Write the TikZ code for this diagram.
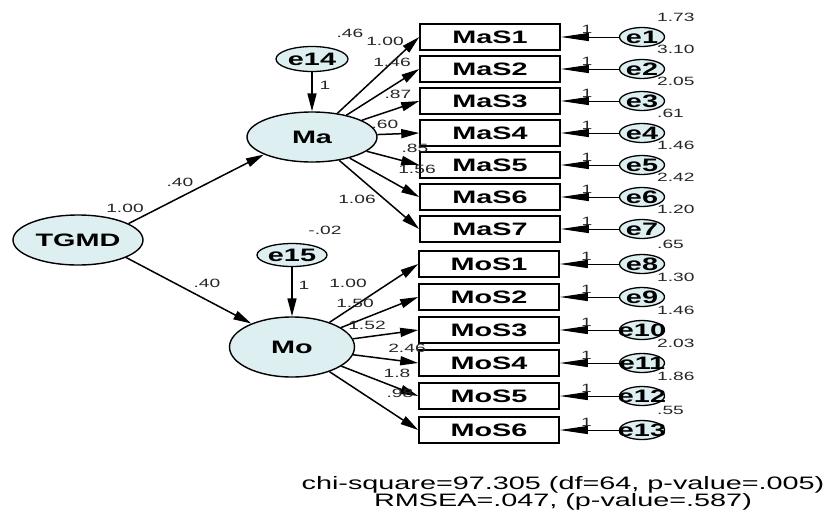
\documentclass[tikz,border=0pt]{standalone}
\usepackage{fontspec}
\setmainfont{Liberation Sans}[FakeStretch=1.6]
\usetikzlibrary{shapes.geometric,arrows.meta}
\definecolor{amosfill}{RGB}{222,239,242}
\newcommand\errtext[1]{\makebox[0pt]{#1}}
\begin{document}
\begin{tikzpicture}[x=1pt,y=-1pt,
  latent/.style={ellipse,draw,line width=1.4pt,fill=amosfill,inner sep=0pt,font=\fontsize{18}{20}\selectfont\bfseries},
  errvar/.style={ellipse,draw,line width=1.3pt,fill=amosfill,inner sep=0pt,font=\fontsize{18}{18}\selectfont\bfseries},
  obsbox/.style={rectangle,draw,line width=1.6pt,fill=white,inner sep=0pt,minimum width=140,minimum height=26,font=\fontsize{18}{20}\selectfont\bfseries},
  est/.style={inner sep=0pt,text=black!85,font=\fontsize{12}{14}\selectfont},
  load/.style={line width=1.5pt,-{Triangle[length=18pt,width=9pt]}},
  errarrow/.style={line width=1pt,-{Triangle[length=28pt,width=8pt]}}]
\path[use as bounding box] (0,0) rectangle (840,512);
% latent variables
\node[latent,minimum width=130,minimum height=50] (TGMD) at (78,240) {TGMD};
\node[latent,minimum width=130,minimum height=50] (Ma) at (312,137) {Ma};
\node[latent,minimum width=125,minimum height=60] (Mo) at (292,347) {Mo};
\node[errvar,minimum width=72,minimum height=25] (e14) at (312,59) {\errtext{e14}};
\node[errvar,minimum width=70,minimum height=23] (e15) at (292,255) {\errtext{e15}};
% observed variables
\node[obsbox] (MaS1) at (490,37) {MaS1};
\node[obsbox] (MaS2) at (490,69) {MaS2};
\node[obsbox] (MaS3) at (490,101) {MaS3};
\node[obsbox] (MaS4) at (490,133) {MaS4};
\node[obsbox] (MaS5) at (490,165) {MaS5};
\node[obsbox] (MaS6) at (490,197) {MaS6};
\node[obsbox] (MaS7) at (490,229) {MaS7};
\node[obsbox] (MoS1) at (489,264) {MoS1};
\node[obsbox] (MoS2) at (489,297) {MoS2};
\node[obsbox] (MoS3) at (489,330) {MoS3};
\node[obsbox] (MoS4) at (489,363) {MoS4};
\node[obsbox] (MoS5) at (489,396) {MoS5};
\node[obsbox] (MoS6) at (489,430) {MoS6};
% measurement errors
\node[errvar,minimum width=45,minimum height=19] (e1) at (642,37) {\errtext{e1}};
\node[errvar,minimum width=45,minimum height=19] (e2) at (642,69) {\errtext{e2}};
\node[errvar,minimum width=45,minimum height=19] (e3) at (642,101) {\errtext{e3}};
\node[errvar,minimum width=45,minimum height=19] (e4) at (642,133) {\errtext{e4}};
\node[errvar,minimum width=45,minimum height=19] (e5) at (642,165) {\errtext{e5}};
\node[errvar,minimum width=45,minimum height=19] (e6) at (642,197) {\errtext{e6}};
\node[errvar,minimum width=45,minimum height=19] (e7) at (642,229) {\errtext{e7}};
\node[errvar,minimum width=45,minimum height=19] (e8) at (642,264) {\errtext{e8}};
\node[errvar,minimum width=45,minimum height=19] (e9) at (642,297) {\errtext{e9}};
\node[errvar,minimum width=45,minimum height=19] (e10) at (642,330) {\errtext{e10}};
\node[errvar,minimum width=45,minimum height=19] (e11) at (642,363) {\errtext{e11}};
\node[errvar,minimum width=45,minimum height=19] (e12) at (642,396) {\errtext{e12}};
\node[errvar,minimum width=45,minimum height=19] (e13) at (642,430) {\errtext{e13}};
% structural paths
\draw[load] (TGMD.18) -- (Ma.200);
\draw[load] (TGMD.340) -- (Mo.150);
\draw[load] (e14) -- (Ma);
\draw[load] (e15) -- (Mo);
\draw[load] (Ma) -- (MaS1.west);
\draw[load] (Ma) -- (MaS2.west);
\draw[load] (Ma) -- (MaS3.west);
\draw[load] (Ma) -- (MaS4.west);
\draw[load] (Ma) -- (MaS5.west);
\draw[load] (Ma) -- (MaS6.west);
\draw[load] (Ma) -- (MaS7.west);
\draw[load] (Mo) -- (MoS1.west);
\draw[load] (Mo) -- (MoS2.west);
\draw[load] (Mo) -- (MoS3.west);
\draw[load] (Mo) -- (MoS4.west);
\draw[load] (Mo) -- (MoS5.west);
\draw[load] (Mo) -- (MoS6.west);
% error paths
\draw[errarrow] (e1) -- (MaS1.east) node[est,pos=0.55,above=3pt] {1};
\draw[errarrow] (e2) -- (MaS2.east) node[est,pos=0.55,above=3pt] {1};
\draw[errarrow] (e3) -- (MaS3.east) node[est,pos=0.55,above=3pt] {1};
\draw[errarrow] (e4) -- (MaS4.east) node[est,pos=0.55,above=3pt] {1};
\draw[errarrow] (e5) -- (MaS5.east) node[est,pos=0.55,above=3pt] {1};
\draw[errarrow] (e6) -- (MaS6.east) node[est,pos=0.55,above=3pt] {1};
\draw[errarrow] (e7) -- (MaS7.east) node[est,pos=0.55,above=3pt] {1};
\draw[errarrow] (e8) -- (MoS1.east) node[est,pos=0.55,above=3pt] {1};
\draw[errarrow] (e9) -- (MoS2.east) node[est,pos=0.55,above=3pt] {1};
\draw[errarrow] (e10) -- (MoS3.east) node[est,pos=0.55,above=3pt] {1};
\draw[errarrow] (e11) -- (MoS4.east) node[est,pos=0.55,above=3pt] {1};
\draw[errarrow] (e12) -- (MoS5.east) node[est,pos=0.55,above=3pt] {1};
\draw[errarrow] (e13) -- (MoS6.east) node[est,pos=0.55,above=3pt] {1};
% estimates
\node[est] at (125,208) {1.00};
\node[est] at (180,182) {.40};
\node[est] at (207,283) {.40};
\node[est] at (350,33) {.46};
\node[est] at (325,85) {1};
\node[est] at (325,230) {-.02};
\node[est] at (304,285) {1};
\node[est] at (385,41) {1.00};
\node[est] at (392,62) {1.46};
\node[est] at (398,94) {.87};
\node[est] at (385,124) {.60};
\node[est] at (415,148) {.85};
\node[est] at (417,169) {1.56};
\node[est] at (357,199) {1.06};
\node[est] at (348,283) {1.00};
\node[est] at (355,303) {1.50};
\node[est] at (367,325) {1.52};
\node[est] at (407,348) {2.46};
\node[est] at (397,373) {1.8};
\node[est] at (400,393) {.98};
\node[est,anchor=west] at (657,17) {1.73};
\node[est,anchor=west] at (657,49) {3.10};
\node[est,anchor=west] at (657,81) {2.05};
\node[est,anchor=west] at (657,113) {.61};
\node[est,anchor=west] at (657,145) {1.46};
\node[est,anchor=west] at (657,177) {2.42};
\node[est,anchor=west] at (657,209) {1.20};
\node[est,anchor=west] at (657,244) {.65};
\node[est,anchor=west] at (657,277) {1.30};
\node[est,anchor=west] at (657,310) {1.46};
\node[est,anchor=west] at (657,343) {2.03};
\node[est,anchor=west] at (657,376) {1.86};
\node[est,anchor=west] at (657,410) {.55};
% fit indices
\node[inner sep=0pt,font=\fontsize{18}{17}\selectfont,align=center] (fit) at (563,493) {chi-square=97.305 (df=64, p-value=.005)\\RMSEA=.047, (p-value=.587)};
\end{tikzpicture}
\end{document}
